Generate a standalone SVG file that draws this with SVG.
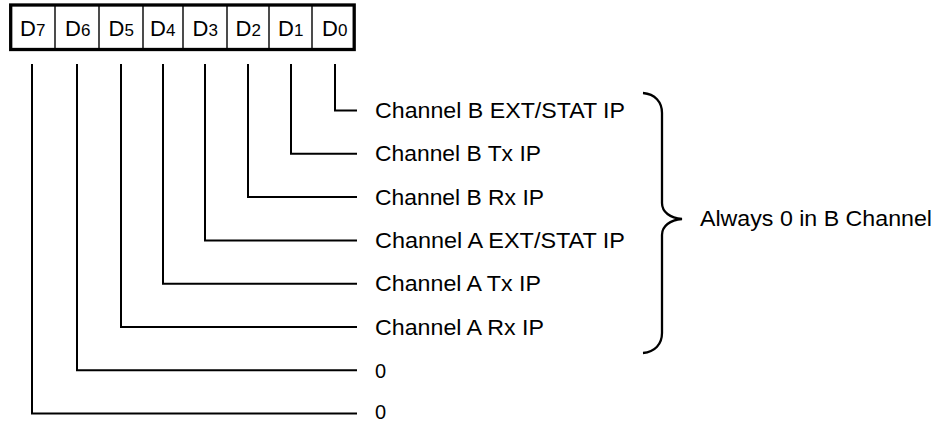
<svg xmlns="http://www.w3.org/2000/svg" width="941" height="424" viewBox="0 0 941 424">
<style>
.t{font-family:"Liberation Sans",Arial,sans-serif;font-size:21.5px;fill:#000}
.z{font-family:"Liberation Sans",Arial,sans-serif;font-size:20px;fill:#000}
.d{font-family:"Liberation Sans",Arial,sans-serif;font-size:22px;fill:#000}
.s{font-size:17px}
.c{fill:none;stroke:#000;stroke-width:2}
.cell{fill:none;stroke:#000;stroke-width:1.4}
</style>
<rect width="941" height="424" fill="#fff"/>
<g id="register">
<rect x="10.7" y="5" width="343.5" height="44.5" fill="#fff" stroke="#000" stroke-width="3.3"/>
<path class="cell" d="M55,5V49.5M99,5V49.5M143,5V49.5M183,5V49.5M227,5V49.5M269,5V49.5M312,5V49.5"/>
<text class="d" x="20" y="36">D<tspan class="s">7</tspan></text>
<text class="d" x="65" y="36">D<tspan class="s">6</tspan></text>
<text class="d" x="108.5" y="36">D<tspan class="s">5</tspan></text>
<text class="d" x="150" y="36">D<tspan class="s">4</tspan></text>
<text class="d" x="192.5" y="36">D<tspan class="s">3</tspan></text>
<text class="d" x="235.5" y="36">D<tspan class="s">2</tspan></text>
<text class="d" x="278" y="36">D<tspan class="s">1</tspan></text>
<text class="d" x="322" y="36">D<tspan class="s">0</tspan></text>
</g>
<g id="connectors">
<path class="c" d="M335,64V110.5H357"/>
<path class="c" d="M291,64V153.8H357"/>
<path class="c" d="M248,64V197.1H357"/>
<path class="c" d="M205,64V240.4H357"/>
<path class="c" d="M163,64V283.7H357"/>
<path class="c" d="M121,64V327H357"/>
<path class="c" d="M77,64V370.3H357"/>
<path class="c" d="M32,64V413.6H357"/>
</g>
<g id="labels">
<text id="b-ext" class="t" x="375" y="118" textLength="250" lengthAdjust="spacingAndGlyphs">Channel B EXT/STAT IP</text>
<text id="b-tx" class="t" x="375" y="161.3" textLength="166" lengthAdjust="spacingAndGlyphs">Channel B Tx IP</text>
<text id="b-rx" class="t" x="375" y="204.6" textLength="169" lengthAdjust="spacingAndGlyphs">Channel B Rx IP</text>
<text id="a-ext" class="t" x="375" y="247.9" textLength="250" lengthAdjust="spacingAndGlyphs">Channel A EXT/STAT IP</text>
<text id="a-tx" class="t" x="375" y="291.2" textLength="166" lengthAdjust="spacingAndGlyphs">Channel A Tx IP</text>
<text id="a-rx" class="t" x="375" y="334.5" textLength="169" lengthAdjust="spacingAndGlyphs">Channel A Rx IP</text>
<text id="z6" class="z" x="375" y="377.8">0</text>
<text id="z7" class="z" x="375" y="419.3">0</text>
</g>
<g id="brace">
<path d="M643,93C655,94 662,102 662,113V203C662,212 670,218 682,219C670,220 662,226 662,235V333C662,344 655,352 643,353" fill="none" stroke="#000" stroke-width="2.3"/>
<text class="t" x="700" y="226" textLength="232" lengthAdjust="spacingAndGlyphs">Always 0 in B Channel</text>
</g>
</svg>
